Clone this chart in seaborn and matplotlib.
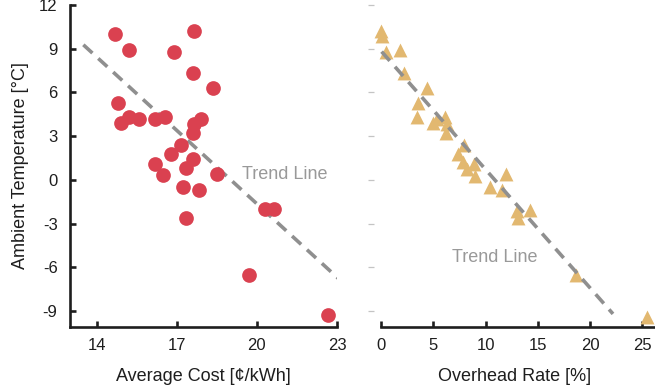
import matplotlib
matplotlib.use("Agg")
import matplotlib.pyplot as plt
import seaborn as sns
import pandas as pd

# ---- data ----
cost = [14.7, 15.2, 17.65, 16.9, 17.6, 18.35, 14.8, 14.9, 15.2, 15.6, 16.2, 16.55,
        17.9, 17.65, 17.6, 17.15, 16.8, 16.2, 17.6, 17.35, 16.5, 18.5, 17.25, 17.85,
        17.35, 20.3, 20.65, 19.7, 22.65]
temp_cost = [10.0, 8.9, 10.2, 8.8, 7.3, 6.3, 5.3, 3.9, 4.3, 4.2, 4.2, 4.3,
             4.2, 3.8, 3.2, 2.4, 1.8, 1.1, 1.4, 0.8, 0.3, 0.4, -0.5, -0.7,
             -2.6, -2.0, -2.0, -6.5, -9.3]

overhead = [0.0, 0.1, 0.5, 1.85, 2.2, 4.4, 3.5, 3.4, 5.0, 5.4, 6.1, 6.3, 6.2,
            7.9, 7.4, 7.8, 8.9, 8.2, 9.0, 12.0, 10.4, 11.55, 13.0, 13.1, 14.3,
            18.7, 25.5]
temp_overhead = [10.2, 9.9, 8.8, 8.9, 7.3, 6.3, 5.3, 4.3, 3.9, 4.2, 4.3, 3.8, 3.2,
                 2.4, 1.8, 1.2, 1.1, 0.75, 0.25, 0.4, -0.5, -0.7, -2.15, -2.6, -2.05,
                 -6.5, -9.4]

trend_cost_x = [13.5, 23.2]
trend_cost_y = [9.27, -7.02]
trend_over_x = [0.06, 22.2]
trend_over_y = [8.8, -9.2]

y_ticks = [-9, -6, -3, 0, 3, 6, 9, 12]
cost_ticks = [14, 17, 20, 23]
over_ticks = [0, 5, 10, 15, 20, 25]

# ---- styling ----
sns.set_theme(style="white")
plt.rcParams["font.family"] = ["Liberation Sans", "DejaVu Sans"]
plt.rcParams["axes.unicode_minus"] = False
RED = "#da4150"
GOLD = "#e2b870"
GRAY = "#8f8f8f"
TXT = "#1e1e1e"

fig = plt.figure(figsize=(6.55, 3.89), dpi=100)
ax1 = fig.add_axes([70/655, 62/389, 267/655, 322/389])
ax2 = fig.add_axes([374/655, 62/389, 281/655, 322/389])

df1 = pd.DataFrame({"cost": cost, "temp": temp_cost})
df2 = pd.DataFrame({"over": overhead, "temp": temp_overhead})
t1 = pd.DataFrame({"x": trend_cost_x, "y": trend_cost_y})
t2 = pd.DataFrame({"x": trend_over_x, "y": trend_over_y})

sns.lineplot(data=t1, x="x", y="y", ax=ax1, color=GRAY, lw=2.6,
             linestyle=(0, (3.4, 2.2)), zorder=1)
sns.scatterplot(data=df1, x="cost", y="temp", ax=ax1, color=RED, s=112,
                linewidth=0, zorder=2, clip_on=False)

sns.lineplot(data=t2, x="x", y="y", ax=ax2, color=GRAY, lw=2.6,
             linestyle=(0, (3.4, 2.2)), zorder=2)
sns.scatterplot(data=df2, x="over", y="temp", ax=ax2, color=GOLD, marker="^",
                s=100, linewidth=0, zorder=1, clip_on=False)

ax1.set_xlim(13, 23)
ax1.set_ylim(-10.1, 12)
ax2.set_xlim(-0.67, 26.22)
ax2.set_ylim(-10.1, 12)

ax1.set_xticks(cost_ticks)
ax1.set_yticks(y_ticks)
ax2.set_xticks(over_ticks)
ax2.set_yticks(y_ticks)
ax2.set_yticklabels([])

for ax in (ax1, ax2):
    ax.spines["top"].set_visible(False)
    ax.spines["right"].set_visible(False)
    ax.spines["bottom"].set_linewidth(1.9)
    ax.spines["bottom"].set_color(TXT)
    ax.tick_params(axis="x", bottom=True, direction="in", length=4.5, width=1.9,
                   color=TXT, labelsize=12, labelcolor=TXT, pad=8)

ax1.spines["left"].set_linewidth(1.9)
ax1.spines["left"].set_color(TXT)
ax1.tick_params(axis="y", left=True, direction="in", length=4.5, width=1.9,
                color=TXT, labelsize=12, labelcolor=TXT, pad=9)
ax2.spines["left"].set_visible(False)
ax2.spines["bottom"].set_bounds(0, 26.22)
ax2.tick_params(axis="y", left=True, direction="out", length=4.5, width=0.9,
                color="#c4c4c4")

ax1.set_xlabel("Average Cost [¢/kWh]", fontsize=13, color=TXT, labelpad=11)
ax1.set_ylabel("Ambient Temperature [°C]", fontsize=13, color=TXT, labelpad=7)
ax2.set_xlabel("Overhead Rate [%]", fontsize=13, color=TXT, labelpad=11)
ax2.set_ylabel("")

ax1.text(19.45, 0.35, "Trend Line", fontsize=13, color="#999999",
         ha="left", va="center")
ax2.text(6.75, -5.3, "Trend Line", fontsize=13, color="#999999",
         ha="left", va="center")

fig.savefig("out.png", dpi=100)
